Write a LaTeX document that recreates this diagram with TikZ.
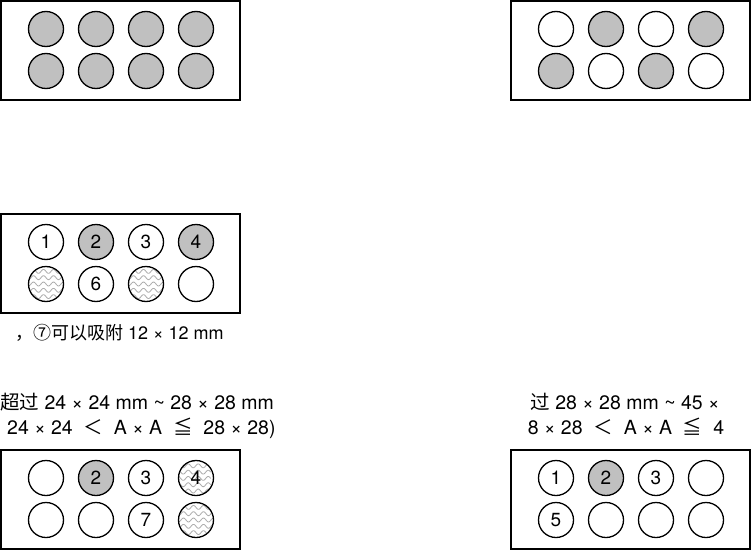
\documentclass[tikz,border=0pt]{standalone}
\usepackage{fontspec}
\setmainfont{TeX Gyre Heros}
\newfontfamily\cjk{Noto Sans CJK SC}
\usepackage{tikz}
\definecolor{wellgray}{HTML}{C0C0C0}

\tikzset{
  plate/.style={draw,line width=1.8pt},
  well/.style={circle,draw,line width=1.3pt,minimum size=35pt,inner sep=0pt,font=\fontsize{19}{21}\selectfont},
  ww/.style={well,fill=white},
  wg/.style={well,fill=wellgray},
  wz/.style={well,fill=white,path picture={
    \foreach \k in {-4,...,4}
      \draw[gray!65,line width=0.8pt,shift={(path picture bounding box.center)}]
        plot[domain=-20:20,samples=41,smooth] (\x,{\k*6.3+2*sin(\x*36)});}},
  lbl/.style={inner sep=0pt,font=\fontsize{19.5}{22}\selectfont}
}

\begin{document}
\begin{tikzpicture}[x=1pt,y=-1pt]
  \useasboundingbox (0,0) rectangle (752,551);
  \foreach \p/\px/\py/\ws in {
      a/1/1/{wg/,wg/,wg/,wg/,wg/,wg/,wg/,wg/},
      b/511/1/{ww/,wg/,ww/,wg/,wg/,ww/,wg/,ww/},
      c/1/214/{ww/1,wg/2,ww/3,wg/4,wz/,ww/6,wz/,ww/},
      d/1/450/{ww/,wg/2,ww/3,wz/4,ww/,ww/,ww/7,wz/},
      e/511/450/{ww/1,wg/2,ww/3,ww/,ww/5,ww/,ww/,ww/}} {
    \draw[plate] (\px,\py) rectangle ++(239,99);
    \foreach \s/\t [count=\i from 0] in \ws {
      \pgfmathsetmacro\cx{\px+45+50*mod(\i,4)}
      \pgfmathsetmacro\cy{\py+28+42*int(\i/4)}
      \node[\s] (\p\i) at (\cx,\cy) {\t};
    }
  }
  \node[lbl,font=\fontsize{18}{20}\selectfont,anchor=base west] (notec) at (15,339) {{\cjk ，⑦可以吸附} 12 × 12 mm};
  \node[lbl,anchor=base west] (noted1) at (0,409.5) {{\cjk 超过} 24 × 24 mm \textasciitilde\ 28 × 28 mm};
  \node[lbl,anchor=base west] (noted2) at (7,434) {24 × 24 \ {\cjk ＜} \ A × A \ {\cjk ≦} \ 28 × 28)};
  \node[lbl,anchor=base] (notee1) at (625,409.5) {{\cjk 过} 28 × 28 mm \textasciitilde\ 45 ×};
  \node[lbl,anchor=base] (notee2) at (626,434) {8 × 28 \ {\cjk ＜} \ A × A \ {\cjk ≦} \ 4};
\end{tikzpicture}
\end{document}
